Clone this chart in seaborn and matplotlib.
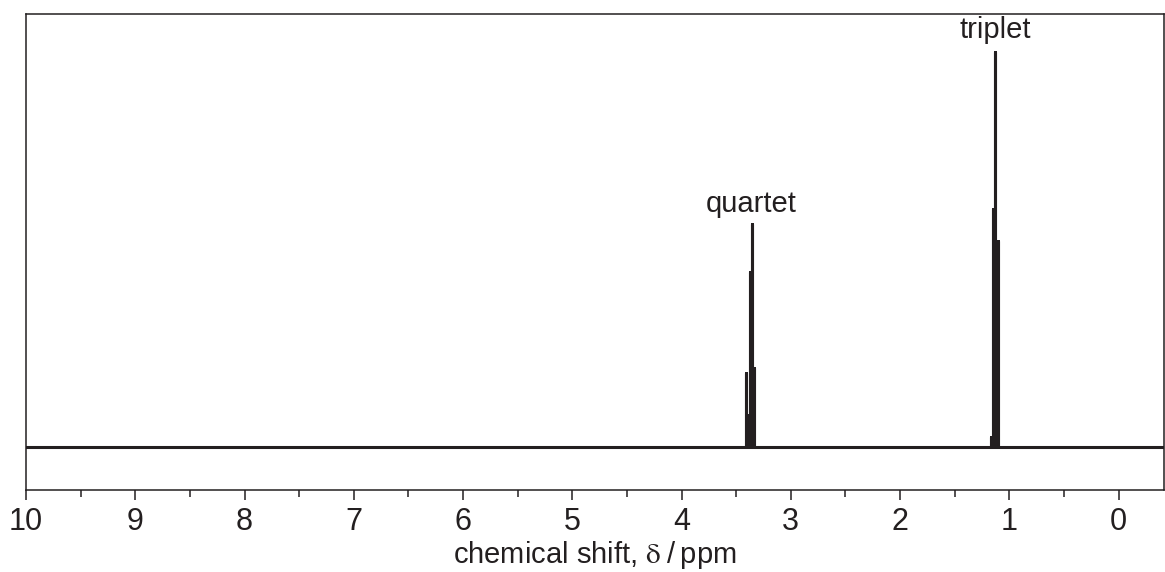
import matplotlib
matplotlib.use("Agg")
import matplotlib.pyplot as plt
import seaborn as sns
import pandas as pd
import numpy as np
from matplotlib.ticker import MultipleLocator

# peak data (chemical shift in ppm, relative intensity)
quartet_shift = [3.413, 3.395, 3.376, 3.358, 3.335]
quartet_height = [18.7, 8.1, 44.3, 56.5, 20.0]
triplet_shift = [1.170, 1.153, 1.135, 1.107]
triplet_height = [2.5, 60.3, 100.0, 52.2]
tick_values = [10, 9, 8, 7, 6, 5, 4, 3, 2, 1, 0]
labels = {"quartet": (3.36, 58), "triplet": (1.13, 102)}

sns.set_theme(style="white")
plt.rcParams["font.family"] = ["Liberation Sans", "DejaVu Sans"]
plt.rcParams["mathtext.fontset"] = "stix"

# build stick spectrum trace
shifts = sorted(quartet_shift + triplet_shift, reverse=True)
heights_map = dict(zip(quartet_shift + triplet_shift, quartet_height + triplet_height))
xs, ys = [10.5], [0.0]
for s in shifts:
    xs += [s, s, s]
    ys += [0.0, heights_map[s], 0.0]
xs.append(-0.5)
ys.append(0.0)
df = pd.DataFrame({"shift": xs, "intensity": ys})

fig = plt.figure(figsize=(11.65, 5.72), dpi=100)
ax = fig.add_axes([26 / 1165, 1 - 490 / 572, 1 - 26 / 1165 - 0.0005, (490 - 14) / 572])

sns.lineplot(data=df, x="shift", y="intensity", sort=False, estimator=None,
             color="#231f20", linewidth=2.2, ax=ax)

ax.set_xlim(10, -0.42)
ax.set_ylim(-10.9, 109.6)
ax.set_xticks(tick_values)
ax.set_xticklabels([str(t) for t in tick_values])
ax.xaxis.set_minor_locator(MultipleLocator(0.5))
ax.set_yticks([])
ax.set_ylabel("")
ax.set_xlabel("chemical shift, $\\mathrm{\\delta}$\u2009/\u2009ppm", fontsize=21,
              labelpad=1.5, color="#231f20")
ax.tick_params(axis="x", which="major", direction="out", length=7.5, width=1.1,
               labelsize=22, pad=5, colors="#231f20", bottom=True)
ax.tick_params(axis="x", which="minor", direction="out", length=5, width=1.1, bottom=True,
               colors="#231f20")
for sp in ax.spines.values():
    sp.set_visible(True)
    sp.set_color("#231f20")
    sp.set_linewidth(1.1)

for name, (x, y) in labels.items():
    ax.text(x, y, name, ha="center", va="bottom", fontsize=21, color="#231f20")

fig.savefig("out.png", dpi=100)
